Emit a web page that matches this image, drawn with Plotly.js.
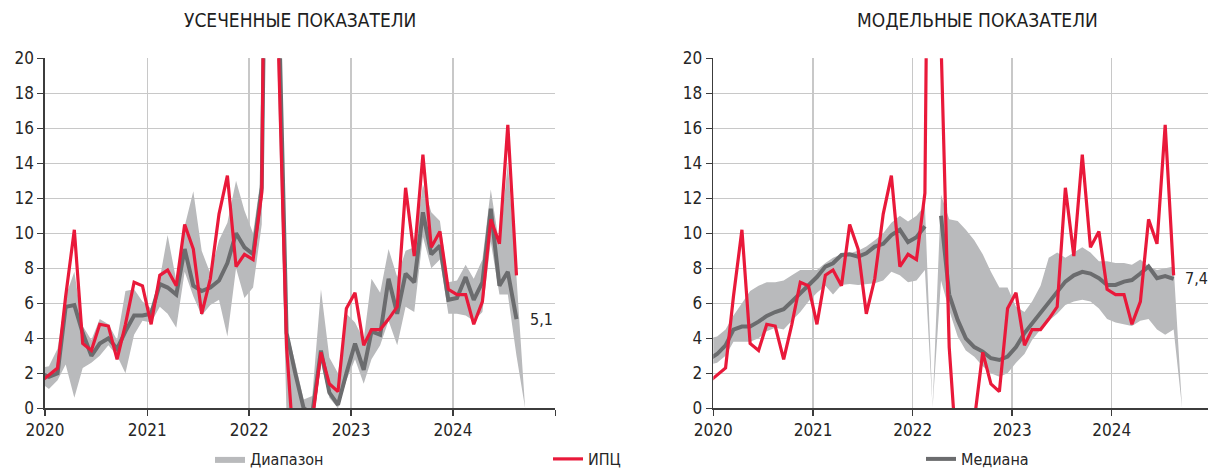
<!DOCTYPE html>
<html><head><meta charset="utf-8">
<script src="https://cdn.plot.ly/plotly-3.0.1.min.js"></script>
<style>html,body{margin:0;padding:0;background:#fff}#chart{width:1208px;height:471px}</style>
</head><body><div id="chart"></div>
<script>
// Monthly observations (mid-month), Dec 2019 .. Sep 2024
const months = ['2019-12-15','2020-01-15','2020-02-15','2020-03-15','2020-04-15','2020-05-15','2020-06-15','2020-07-15','2020-08-15','2020-09-15','2020-10-15','2020-11-15','2020-12-15',
'2021-01-15','2021-02-15','2021-03-15','2021-04-15','2021-05-15','2021-06-15','2021-07-15','2021-08-15','2021-09-15','2021-10-15','2021-11-15','2021-12-15',
'2022-01-15','2022-02-15','2022-03-15','2022-04-15','2022-05-15','2022-06-15','2022-07-15','2022-08-15','2022-09-15','2022-10-15','2022-11-15','2022-12-15',
'2023-01-15','2023-02-15','2023-03-15','2023-04-15','2023-05-15','2023-06-15','2023-07-15','2023-08-15','2023-09-15','2023-10-15','2023-11-15','2023-12-15',
'2024-01-15','2024-02-15','2024-03-15','2024-04-15','2024-05-15','2024-06-15','2024-07-15','2024-08-15','2024-09-15'];

// CPI (ИПЦ), % SAAR
const cpi = [1.5,1.9,2.3,6.4,10.2,3.7,3.3,4.8,4.7,2.8,4.8,7.2,7.0,
4.8,7.6,7.9,7.0,10.5,9.1,5.4,7.4,11.1,13.3,8.1,8.8,
8.5,12.3,60,21,3.5,-3.5,-4,-0.7,3.2,1.4,0.95,5.7,
6.6,3.6,4.5,4.5,5.1,5.8,12.6,8.7,14.5,9.2,10.1,6.8,
6.5,6.5,4.8,6.1,10.8,9.4,16.2,7.6,null];

// Truncated indicators (усеченные показатели)
const truncMedian = [2.0,1.8,2.0,5.8,5.9,4.3,3.0,3.7,4.0,3.4,4.4,5.3,5.3,
5.4,7.1,6.9,6.5,9.1,7.0,6.7,6.9,7.3,8.3,10.0,9.2,
8.8,12.6,47,24.5,4.3,2.0,0,-0.3,3.3,0.9,0.2,2.0,
3.7,2.2,4.4,4.2,7.4,5.4,7.7,7.2,11.2,8.8,9.3,6.2,
6.3,7.5,6.2,7.2,11.4,7.0,7.8,5.1,null];
const truncLow = [1.5,1.1,1.6,2.5,0.6,2.3,2.6,3.0,3.6,3.0,2.0,4.2,5.0,
4.9,5.8,5.4,4.6,7.8,6.4,5.3,5.9,6.2,4.1,8.0,6.3,
6.9,10.5,40,18,-0.5,-1.0,-1.5,-1.5,2.6,0.6,0.0,1.6,
2.8,1.4,2.8,3.6,5.0,3.6,5.8,5.5,9.8,8.0,8.5,5.4,
5.4,5.3,5.0,5.5,9.5,6.5,6.5,3.0,0];
const truncHigh = [2.3,2.4,3.4,6.4,7.8,4.7,3.9,5.1,4.8,3.9,6.7,6.8,6.1,
5.7,7.4,9.9,7.3,10.4,12.4,9.0,7.7,9.6,10.6,13.0,11.3,
10.0,13.5,70,28,4.6,2.6,0.5,0.7,6.8,2.9,2.0,5.4,
4.9,3.9,7.4,6.6,9.1,7.5,9.0,9.2,12.8,11.2,10.7,7.2,
7.3,8.2,7.4,8.5,12.5,9.3,14.0,7.5,0];

// Model indicators (модельные показатели)
const modelMedian = [2.8,3.1,3.6,4.5,4.67,4.67,4.95,5.28,5.5,5.66,6.1,6.57,7.05,
7.5,8.1,8.29,8.76,8.8,8.67,8.86,9.24,9.4,9.9,10.2,9.5,
9.77,10.4,null,11.0,6.5,5.05,4.0,3.5,3.24,2.86,2.76,2.95,
3.5,4.3,4.86,5.43,6.0,6.67,7.24,7.6,7.8,7.7,7.43,7.05,
7.05,7.24,7.33,7.7,8.1,7.43,7.56,7.4,null];
const modelLow = [2.5,2.6,3.0,3.8,3.8,3.8,4.0,4.4,4.6,4.5,5.0,5.5,6.1,
6.6,7.0,6.5,7.05,7.1,7.05,7.1,7.15,7.3,7.8,7.6,7.2,
7.3,7.9,0,7.3,5.6,4.1,3.3,2.95,2.4,2.0,1.8,2.0,
2.6,3.1,3.9,4.5,5.0,5.4,5.9,6.1,6.2,6.1,5.7,5.1,
4.9,4.8,4.7,5.0,5.1,4.5,4.2,4.5,0];
const modelHigh = [4.0,4.1,4.5,5.3,6.0,6.7,7.0,7.2,7.2,7.3,7.6,7.9,7.9,
7.9,8.3,8.6,8.8,8.86,9.0,9.24,9.6,10.0,10.6,11.0,10.67,
11.0,11.6,0,12.2,10.8,10.7,10.2,9.6,8.8,7.8,6.9,6.9,
5.8,5.5,6.1,7.0,8.6,8.9,8.6,8.9,9.2,8.9,8.4,8.4,
8.3,8.3,8.2,8.5,8.1,7.9,8.0,8.1,0];

const yTicks = [0,2,4,6,8,10,12,14,16,18,20];
const yearTicks = ['2020-01-01','2021-01-01','2022-01-01','2023-01-01','2024-01-01','2025-01-01'];
const yearLabels = ['2020','2021','2022','2023','2024',''];
const panelTitles = ['УСЕЧЕННЫЕ ПОКАЗАТЕЛИ','МОДЕЛЬНЫЕ ПОКАЗАТЕЛИ'];
const names = {range:'Диапазон', cpi:'ИПЦ', median:'Медиана'};

const FONT = "'Liberation Sans Narrow', 'DejaVu Sans Condensed', Roboto, sans-serif";
const RED = '#e9193a', DARK = '#6b6c6e', LIGHT = '#b9babc';
const W = 1208, H = 471;

function lastVal(arr){ for(let i=arr.length-1;i>=0;i--) if(arr[i]!==null) return i; return -1; }

const traces = [
  {x:months, y:truncLow, xaxis:'x', yaxis:'y', mode:'lines', line:{width:0,color:LIGHT}, showlegend:false, hoverinfo:'skip'},
  {x:months, y:truncHigh, xaxis:'x', yaxis:'y', mode:'lines', line:{width:0,color:LIGHT}, fill:'tonexty', fillcolor:LIGHT, name:names.range, legend:'legend', showlegend:true},
  {x:months, y:modelLow, xaxis:'x2', yaxis:'y2', mode:'lines', line:{width:0,color:LIGHT}, showlegend:false, hoverinfo:'skip'},
  {x:months, y:modelHigh, xaxis:'x2', yaxis:'y2', mode:'lines', line:{width:0,color:LIGHT}, fill:'tonexty', fillcolor:LIGHT, showlegend:false},
  {x:months, y:truncMedian, xaxis:'x', yaxis:'y', mode:'lines', line:{width:4,color:DARK}, showlegend:false},
  {x:months, y:modelMedian, xaxis:'x2', yaxis:'y2', mode:'lines', line:{width:4,color:DARK}, name:names.median, legend:'legend3', showlegend:true, connectgaps:false},
  {x:months, y:cpi, xaxis:'x', yaxis:'y', mode:'lines', line:{width:3.2,color:RED}, name:names.cpi, legend:'legend2', showlegend:true},
  {x:months, y:cpi, xaxis:'x2', yaxis:'y2', mode:'lines', line:{width:3.2,color:RED}, showlegend:false}
];

const yDom = [(H-408.3)/H, (H-58.3)/H];
function xAx(dom, rangeEnd){
  return {domain:dom, type:'date', range:['2020-01-01', rangeEnd], tickmode:'array', tickvals:yearTicks, ticktext:yearLabels,
    showgrid:true, gridcolor:'#c8c8c8', gridwidth:1.4, showline:true, linecolor:'#3c3c3c', linewidth:1.6,
    ticks:'outside', ticklen:6, tickwidth:1.4, tickcolor:'#3c3c3c', zeroline:false, fixedrange:true, automargin:false,
    tickfont:{family:FONT, size:17, color:'#262626'}};
}
function yAx(anchor){
  return {domain:yDom, anchor:anchor, range:[0,20], tickmode:'array', tickvals:yTicks, ticktext:yTicks.map(String),
    showgrid:true, gridcolor:'#c8c8c8', gridwidth:1.4, showline:true, linecolor:'#3c3c3c', linewidth:1.6,
    ticks:'outside', ticklen:6, tickwidth:1.4, tickcolor:'#3c3c3c', zeroline:false, fixedrange:true, automargin:false,
    tickfont:{family:FONT, size:17, color:'#262626'}};
}

const li = lastVal(truncMedian), ri = lastVal(modelMedian);
const fmt = v => v.toFixed(1).replace('.', ',');
const legFont = {family:FONT,size:16,color:'#262626'};

const layout = {
  width:W, height:H, margin:{l:0,r:0,t:0,b:0,autoexpand:false}, paper_bgcolor:'#fff', plot_bgcolor:'#fff',
  font:{family:FONT, color:'#262626'},
  xaxis: Object.assign(xAx([45/W, 555.3/W], '2025-01-01'), {anchor:'y'}),
  yaxis: yAx('x'),
  xaxis2: Object.assign(xAx([713.3/W, 1], '2024-12-19'), {anchor:'y2'}),
  yaxis2: yAx('x2'),
  legend: {x:210/W, y:(H-459)/H, xanchor:'left', yanchor:'middle', orientation:'h', bgcolor:'rgba(0,0,0,0)', font:legFont},
  legend2:{x:548/W, y:(H-459)/H, xanchor:'left', yanchor:'middle', orientation:'h', bgcolor:'rgba(0,0,0,0)', font:legFont},
  legend3:{x:921/W, y:(H-459)/H, xanchor:'left', yanchor:'middle', orientation:'h', bgcolor:'rgba(0,0,0,0)', font:legFont},
  annotations:[
    {xref:'paper', yref:'paper', x:300/W, y:(H-20)/H, xanchor:'center', yanchor:'middle', text:panelTitles[0], showarrow:false, font:{family:FONT,size:19,color:'#1e1e1e'}},
    {xref:'paper', yref:'paper', x:977/W, y:(H-20)/H, xanchor:'center', yanchor:'middle', text:panelTitles[1], showarrow:false, font:{family:FONT,size:19,color:'#1e1e1e'}},
    {xref:'x', yref:'y', x:months[li], y:truncMedian[li], xanchor:'left', yanchor:'middle', xshift:12, text:fmt(truncMedian[li]), showarrow:false, font:{family:FONT,size:16,color:'#262626'}},
    {xref:'x2', yref:'y2', x:months[ri], y:modelMedian[ri], xanchor:'left', yanchor:'middle', xshift:9, text:fmt(modelMedian[ri]), showarrow:false, font:{family:FONT,size:16,color:'#262626'}}
  ],
  showlegend:true
};

Plotly.newPlot('chart', traces, layout, {staticPlot:true, displayModeBar:false});
</script>
</body></html>
